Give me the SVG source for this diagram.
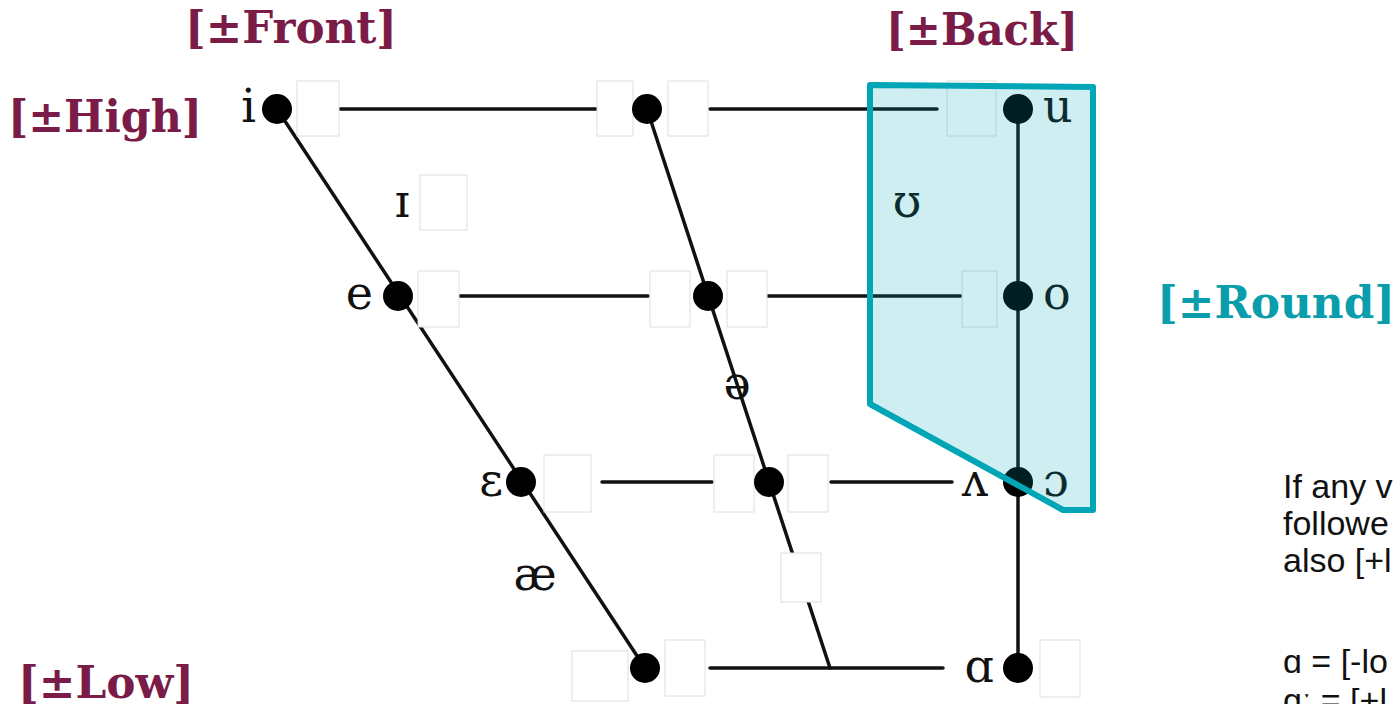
<svg xmlns="http://www.w3.org/2000/svg" width="1397" height="704" viewBox="0 0 1397 704">
  <style>
    .feat { font-family: "DejaVu Serif", "Liberation Serif", serif; font-weight: bold; font-size: 44px; }
    .maroon { fill: #7a1c47; }
    .teal { fill: #0a9dab; }
    .ipa { font-family: "DejaVu Serif", "Liberation Serif", serif; font-size: 46px; fill: #111; }
    .end { text-anchor: end; }
    .mid { text-anchor: middle; }
    .note { font-family: "Liberation Sans", Arial, sans-serif; font-size: 34px; fill: #111; }
    .edge { stroke: #111; stroke-width: 3.5; fill: none; stroke-linecap: round; }
    .dot { fill: #000; }
    .blank { fill: #fff; stroke: #dedede; stroke-width: 1; }
  </style>

  <rect width="1397" height="704" fill="#fff"/>

  <!-- feature labels -->
  <g id="label-front"><text class="feat maroon" x="185" y="43" textLength="212" lengthAdjust="spacingAndGlyphs">[±Front]</text></g>
  <g id="label-back"><text class="feat maroon" x="886" y="45" textLength="192" lengthAdjust="spacingAndGlyphs">[±Back]</text></g>
  <g id="label-high"><text class="feat maroon" x="8" y="132" textLength="194" lengthAdjust="spacingAndGlyphs">[±High]</text></g>
  <g id="label-low"><text class="feat maroon" x="18" y="698" textLength="176" lengthAdjust="spacingAndGlyphs">[±Low]</text></g>
  <g id="label-round"><text class="feat teal" x="1157" y="318" textLength="238" lengthAdjust="spacingAndGlyphs">[±Round]</text></g>

  <!-- connectors: vowel trapezoid grid -->
  <g id="connectors">
    <line class="edge" x1="277" y1="109" x2="645" y2="668"/>
    <line class="edge" x1="647" y1="109" x2="830" y2="668"/>
    <line class="edge" x1="1018" y1="109" x2="1018" y2="668"/>
    <line class="edge" x1="340" y1="109" x2="597" y2="109"/>
    <line class="edge" x1="710" y1="109" x2="937" y2="109"/>
    <line class="edge" x1="460" y1="296" x2="648" y2="296"/>
    <line class="edge" x1="768" y1="296" x2="961" y2="296"/>
    <line class="edge" x1="602" y1="482" x2="712" y2="482"/>
    <line class="edge" x1="831" y1="482" x2="952" y2="482"/>
    <line class="edge" x1="710" y1="668" x2="943" y2="668"/>
  </g>

  <!-- blank slots -->
  <g id="slots">
    <rect class="blank" x="297" y="81" width="42" height="55"/>
    <rect class="blank" x="597" y="81" width="36" height="55"/>
    <rect class="blank" x="668" y="81" width="40" height="55"/>
    <rect class="blank" x="947" y="81" width="49" height="55"/>
    <rect class="blank" x="420" y="175" width="47" height="55"/>
    <rect class="blank" x="418" y="271" width="41" height="56"/>
    <rect class="blank" x="650" y="271" width="40" height="56"/>
    <rect class="blank" x="727" y="271" width="40" height="56"/>
    <rect class="blank" x="962" y="271" width="35" height="56"/>
    <rect class="blank" x="544" y="455" width="47" height="57"/>
    <rect class="blank" x="714" y="455" width="40" height="57"/>
    <rect class="blank" x="788" y="455" width="40" height="57"/>
    <rect class="blank" x="781" y="553" width="40" height="49"/>
    <rect class="blank" x="572" y="651" width="56" height="50"/>
    <rect class="blank" x="665" y="640" width="40" height="56"/>
    <rect class="blank" x="1040" y="640" width="40" height="57"/>
  </g>

  <!-- vowel nodes -->
  <g id="v-i"><circle class="dot" cx="277" cy="109" r="15"/><text class="ipa end" x="256" y="122">i</text></g>
  <g id="v-high-central"><circle class="dot" cx="647" cy="109" r="15"/></g>
  <g id="v-u"><circle class="dot" cx="1018" cy="109" r="15"/><text class="ipa" x="1043" y="122">u</text></g>
  <g id="v-ih"><text class="ipa mid" x="402" y="217">ɪ</text></g>
  <g id="v-upsilon"><text class="ipa mid" x="907" y="217">ʊ</text></g>
  <g id="v-e"><circle class="dot" cx="398" cy="296" r="15"/><text class="ipa end" x="373" y="309">e</text></g>
  <g id="v-mid-central"><circle class="dot" cx="708" cy="296" r="15"/></g>
  <g id="v-o"><circle class="dot" cx="1018" cy="296" r="15"/><text class="ipa" x="1043" y="309">o</text></g>
  <g id="v-schwa"><text class="ipa mid" x="737" y="399">ə</text></g>
  <g id="v-epsilon"><circle class="dot" cx="521" cy="482" r="15"/><text class="ipa end" x="503" y="496">ɛ</text></g>
  <g id="v-lowmid-central"><circle class="dot" cx="769" cy="482" r="15"/></g>
  <g id="v-wedge"><text class="ipa end" x="988" y="496">ʌ</text></g>
  <g id="v-open-o"><circle class="dot" cx="1018" cy="482" r="15"/><text class="ipa" x="1043" y="496">ɔ</text></g>
  <g id="v-ae"><text class="ipa mid" x="535" y="590">æ</text></g>
  <g id="v-low-front"><circle class="dot" cx="645" cy="668" r="15"/></g>
  <g id="v-alpha"><circle class="dot" cx="1018" cy="668" r="15"/><text class="ipa end" x="994" y="682">ɑ</text></g>

  <!-- rounded-vowel region -->
  <g id="round-region">
    <path d="M870 85 L1093 87 L1093 510 L1063 510 L870 404 Z" fill="#00a5b6" fill-opacity="0.19" stroke="#00a5b6" stroke-width="6" stroke-linejoin="round"/>
  </g>

  <!-- side note -->
  <g id="note">
    <text class="note" x="1283" y="498">If any v</text>
    <text class="note" x="1283" y="535">followe</text>
    <text class="note" x="1283" y="572">also [+l</text>
    <text class="note" x="1283" y="673">ɑ = [-lo</text>
    <text class="note" x="1283" y="712">ɑː = [+l</text>
  </g>
</svg>
